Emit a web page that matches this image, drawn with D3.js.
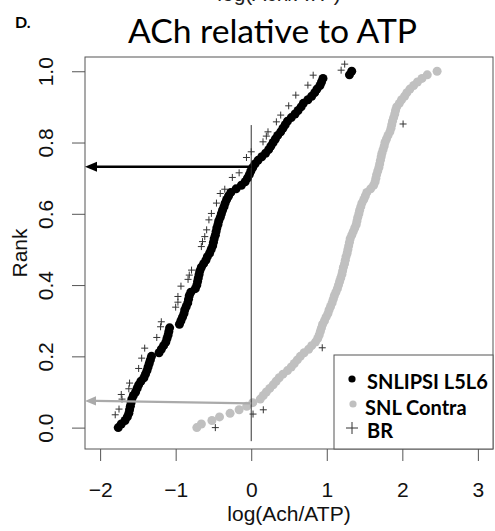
<!DOCTYPE html>
<html>
<head>
<meta charset="utf-8">
<script src="https://cdn.jsdelivr.net/npm/d3@7"></script>
<style>
body { margin: 0; background: #fff; }
</style>
</head>
<body>
<div id="chart"></div>
<script>
let width = 495;
let height = 531;

// shared rank levels (empirical rank of each sorted sample)
let rankLevels = [
0.00,0.01,0.02,0.03,0.04,0.05,0.06,0.07,0.08,0.09,
0.10,0.11,0.12,0.13,0.14,0.15,0.16,0.17,0.18,0.19,
0.20,0.21,0.22,0.23,0.24,0.25,0.26,0.27,0.28,0.29,
0.30,0.31,0.32,0.33,0.34,0.35,0.36,0.37,0.38,0.39,
0.40,0.41,0.42,0.43,0.44,0.45,0.46,0.47,0.48,0.49,
0.50,0.51,0.52,0.53,0.54,0.55,0.56,0.57,0.58,0.59,
0.60,0.61,0.62,0.63,0.64,0.65,0.66,0.67,0.68,0.69,
0.70,0.71,0.72,0.73,0.74,0.75,0.76,0.77,0.78,0.79,
0.80,0.81,0.82,0.83,0.84,0.85,0.86,0.87,0.88,0.89,
0.90,0.91,0.92,0.93,0.94,0.95,0.96,0.97,0.98,0.99,
1.00];

// SNLIPSI L5L6 log(Ach/ATP), sorted
let ipsiX = [
-1.76,-1.72,-1.67,-1.64,-1.62,-1.61,-1.60,-1.59,-1.58,-1.56,
-1.53,-1.51,-1.49,-1.46,-1.42,-1.40,-1.38,-1.365,-1.35,-1.335,
-1.32,-1.22,-1.19,-1.16,-1.13,-1.115,-1.10,-1.09,-1.08,-0.95,
-0.93,-0.91,-0.89,-0.88,-0.86,-0.84,-0.83,-0.82,-0.80,-0.74,
-0.72,-0.71,-0.70,-0.69,-0.68,-0.66,-0.63,-0.60,-0.58,-0.55,
-0.53,-0.51,-0.50,-0.49,-0.475,-0.465,-0.455,-0.44,-0.43,-0.41,
-0.395,-0.38,-0.36,-0.345,-0.325,-0.30,-0.27,-0.20,-0.13,-0.08,
-0.05,-0.025,-0.005,0.02,0.05,0.09,0.14,0.19,0.23,0.26,
0.29,0.32,0.35,0.39,0.42,0.45,0.48,0.53,0.58,0.62,
0.66,0.69,0.75,0.80,0.84,0.87,0.91,0.93,0.95,1.30,
1.33];

// SNL Contra log(Ach/ATP), sorted
let contraX = [
-0.72,-0.66,-0.52,-0.42,-0.28,-0.16,-0.06,0.02,0.12,0.16,
0.20,0.245,0.29,0.33,0.37,0.42,0.48,0.53,0.57,0.61,
0.65,0.70,0.76,0.80,0.85,0.88,0.90,0.915,0.93,0.945,
0.97,0.99,1.015,1.03,1.05,1.07,1.085,1.10,1.12,1.14,
1.155,1.17,1.185,1.20,1.21,1.22,1.235,1.245,1.255,1.27,
1.28,1.29,1.30,1.31,1.33,1.35,1.37,1.39,1.40,1.41,
1.425,1.435,1.45,1.465,1.49,1.51,1.53,1.58,1.62,1.64,
1.65,1.66,1.675,1.69,1.70,1.71,1.72,1.73,1.745,1.76,
1.77,1.79,1.81,1.835,1.85,1.86,1.87,1.885,1.90,1.91,
1.925,1.96,1.99,2.03,2.06,2.10,2.15,2.20,2.26,2.33,
2.46];

// BR crosses
let brX = [-0.475,-1.80,0.024,-1.75,0.16,-1.71,-1.72,-1.62,-1.61,-1.49,
-1.45,-1.41,0.94,-1.25,-1.20,-1.19,-1.00,-0.97,-0.97,-0.93,
-0.836,-0.82,-0.79,-0.66,-0.645,-0.615,-0.59,-0.56,-0.527,-0.46,
-0.41,-0.35,-0.25,-0.16,-0.063,0.0,0.156,0.20,0.222,0.333,
0.39,0.496,0.59,0.75,0.82,1.19,1.237,2.01];
let brRank = [0.0,0.036,0.038,0.052,0.05,0.08,0.093,0.109,0.125,0.166,
0.195,0.223,0.224,0.253,0.283,0.297,0.338,0.352,0.368,0.397,
0.416,0.428,0.442,0.508,0.522,0.536,0.555,0.583,0.601,0.63,
0.657,0.669,0.702,0.715,0.758,0.774,0.802,0.818,0.83,0.858,
0.877,0.903,0.933,0.961,0.989,1.003,1.02,0.852];

let xTicks = [-2, -1, 0, 1, 2, 3];
let yTicks = [0, 0.2, 0.4, 0.6, 0.8, 1.0];
let legendLabels = ["SNLIPSI L5L6", "SNL Contra", "BR"];

// annotation lines
let blackArrow = [[0, 0.732], [-2.2, 0.732]];
let greyArrow = [[0, 0.068], [-2.2, 0.075]];
let zeroLine = [[0, 0.849], [0, -0.038]];

let plotLeft = 85, plotRight = 493, plotTop = 57, plotBottom = 449;
let axisFont = "'Liberation Sans', Arial, Helvetica, sans-serif";

let svg = d3.select("#chart").append("svg")
    .attr("width", width)
    .attr("height", height)
    .style("font-family", axisFont);

let xScale = d3.scaleLinear().domain([-2.2, 3.2]).range([plotLeft, plotRight]);
let yScale = d3.scaleLinear().domain([-0.06, 1.04]).range([plotBottom, plotTop]);

// cut-off label from the panel above (only its lower part shows)
svg.append("text")
    .attr("x", 279).attr("y", 1)
    .attr("text-anchor", "middle")
    .attr("font-size", 21)
    .attr("fill", "#222")
    .text("log(Ach/ATP)");

svg.append("text")
    .attr("x", 15).attr("y", 28)
    .attr("font-family", "Lato, sans-serif")
    .attr("font-weight", "bold")
    .attr("font-size", 16)
    .text("D.");

svg.append("text")
    .attr("x", 128).attr("y", 43)
    .attr("font-family", "Lato, sans-serif")
    .attr("font-size", 33)
    .attr("textLength", 289)
    .attr("lengthAdjust", "spacingAndGlyphs")
    .text("ACh relative to ATP");

// axes
let xAxis = d3.axisBottom(xScale).tickValues(xTicks).tickSize(12).tickPadding(21)
    .tickFormat(d3.format("d"));
let xAxisGroup = svg.append("g").attr("transform", "translate(0," + plotBottom + ")").call(xAxis);

let yAxis = d3.axisLeft(yScale).tickValues(yTicks).tickSize(13).tickFormat(d3.format(".1f"));
let yAxisGroup = svg.append("g").attr("transform", "translate(" + plotLeft + ",0)").call(yAxis);

[xAxisGroup, yAxisGroup].forEach(g => {
    g.attr("font-family", axisFont);
    g.select(".domain").remove();
    g.selectAll("line").attr("stroke", "#555");
    g.selectAll("text").attr("font-size", 21).attr("fill", "#111");
});

yAxisGroup.selectAll("text")
    .attr("text-anchor", "middle")
    .attr("x", 0).attr("y", -32).attr("dy", 0)
    .attr("transform", "rotate(-90)");

svg.append("rect")
    .attr("x", plotLeft).attr("y", plotTop)
    .attr("width", plotRight - plotLeft).attr("height", plotBottom - plotTop)
    .attr("fill", "none").attr("stroke", "#555");

svg.append("text")
    .attr("x", (plotLeft + plotRight) / 2).attr("y", 521)
    .attr("text-anchor", "middle").attr("font-size", 21).attr("fill", "#111")
    .text("log(Ach/ATP)");

svg.append("text")
    .attr("transform", "translate(27," + (plotTop + plotBottom) / 2 + ") rotate(-90)")
    .attr("text-anchor", "middle").attr("font-size", 21).attr("fill", "#111")
    .text("Rank");

// points
let plot = svg.append("g");

plot.selectAll(".contra").data(contraX).enter()
    .append("circle")
    .attr("class", "contra")
    .attr("cx", d => xScale(d))
    .attr("cy", (d, i) => yScale(rankLevels[i]))
    .attr("r", 4.5)
    .attr("fill", "#c0c0c0");

plot.selectAll(".ipsi").data(ipsiX).enter()
    .append("circle")
    .attr("class", "ipsi")
    .attr("cx", d => xScale(d))
    .attr("cy", (d, i) => yScale(rankLevels[i]))
    .attr("r", 4.5)
    .attr("fill", "#000");

function crossPath(cx, cy, s) {
    return "M" + (cx - s) + "," + cy + "H" + (cx + s) + "M" + cx + "," + (cy - s) + "V" + (cy + s);
}

plot.selectAll(".br").data(brX).enter()
    .append("path")
    .attr("class", "br")
    .attr("d", (d, i) => crossPath(xScale(d), yScale(brRank[i]), 3.5))
    .attr("stroke", "#333")
    .attr("stroke-width", 1)
    .attr("fill", "none");

// arrows and zero line
function drawArrow(pts, color, w, head) {
    let x0 = xScale(pts[0][0]), y0 = yScale(pts[0][1]);
    let x1 = xScale(pts[1][0]), y1 = yScale(pts[1][1]);
    svg.append("line")
        .attr("x1", x0).attr("y1", y0)
        .attr("x2", x1 + head).attr("y2", y1)
        .attr("stroke", color).attr("stroke-width", w);
    svg.append("path")
        .attr("d", "M" + x1 + "," + y1 + "L" + (x1 + head) + "," + (y1 - head * 0.42) +
            "L" + (x1 + head) + "," + (y1 + head * 0.42) + "Z")
        .attr("fill", color);
}

svg.append("line")
    .attr("x1", xScale(zeroLine[0][0])).attr("y1", yScale(zeroLine[0][1]))
    .attr("x2", xScale(zeroLine[1][0])).attr("y2", yScale(zeroLine[1][1]))
    .attr("stroke", "#333").attr("stroke-width", 1);

drawArrow(blackArrow, "#000", 2.5, 12);
drawArrow(greyArrow, "#aaa", 2.2, 11);

// legend
let legendBox = {x: 334, y: 355};
svg.append("rect")
    .attr("x", legendBox.x).attr("y", legendBox.y)
    .attr("width", plotRight - legendBox.x).attr("height", plotBottom - legendBox.y)
    .attr("fill", "#fff").attr("stroke", "#555");

let legendY = [379, 404, 428];
let legendBase = [389, 415, 438];
let legendTextX = [367, 365, 367];

svg.append("circle").attr("cx", 352).attr("cy", legendY[0]).attr("r", 3.6).attr("fill", "#000");
svg.append("circle").attr("cx", 353).attr("cy", legendY[1]).attr("r", 3.6).attr("fill", "#c0c0c0");
svg.append("path").attr("d", crossPath(352, legendY[2], 6))
    .attr("stroke", "#333").attr("stroke-width", 1).attr("fill", "none");

legendLabels.forEach((t, i) => {
    svg.append("text")
        .attr("x", legendTextX[i]).attr("y", legendBase[i])
        .attr("font-family", "Lato, sans-serif")
        .attr("font-weight", "bold")
        .attr("font-size", 20)
        .attr("fill", "#000")
        .text(t);
});
</script>
</body>
</html>
